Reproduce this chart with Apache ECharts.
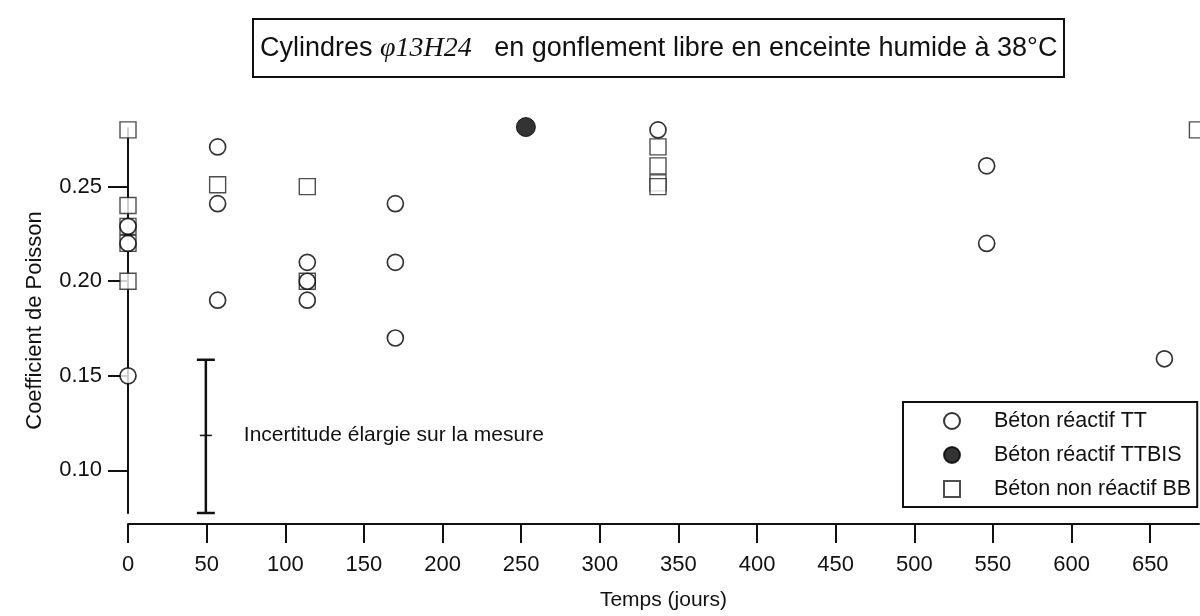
<!DOCTYPE html>
<html>
<head>
<meta charset="utf-8">
<script src="https://cdn.jsdelivr.net/npm/echarts@6/dist/echarts.min.js"></script>
<style>html,body{margin:0;padding:0;background:#fff}#c{width:1200px;height:616px}</style>
</head>
<body>
<div id="c"></div>
<script>
// ---- data ----
var xTicks = [0, 50, 100, 150, 200, 250, 300, 350, 400, 450, 500, 550, 600, 650];
var yTicks = [0.10, 0.15, 0.20, 0.25];
var seriesNames = ['Béton réactif TT', 'Béton réactif TTBIS', 'Béton non réactif BB'];
// [temps (jours), coefficient de Poisson]
var betonTT = [
  [0, 0.229], [0, 0.22], [0, 0.15],
  [57, 0.271], [57, 0.241], [57, 0.19],
  [114, 0.21], [114, 0.20], [114, 0.19],
  [170, 0.241], [170, 0.21], [170, 0.17],
  [337, 0.28],
  [546, 0.261], [546, 0.22],
  [659, 0.159]
];
var betonTTBIS = [[253, 0.2815]];
var betonBB = [
  [0, 0.28], [0, 0.24], [0, 0.229], [0, 0.22], [0, 0.20],
  [57, 0.251],
  [114, 0.25], [114, 0.20],
  [337, 0.271], [337, 0.261], [337, 0.252], [337, 0.25],
  [680, 0.28]
];
// uncertainty bar: [x, low, high, centre]
var incertitude = [[49.5, 0.0775, 0.1585, 0.1185]];
var incertitudeLabel = 'Incertitude élargie sur la mesure';

var FONT = '"Liberation Sans", Arial, Helvetica, sans-serif';
var chart = echarts.init(document.getElementById('c'), null, {renderer: 'canvas'});
chart.setOption({
  animation: false,
  backgroundColor: '#fff',
  title: {
    text: 'Cylindres {i|φ13H24}   en gonflement libre en enceinte humide à 38°C',
    left: 253, top: 19,
    padding: [13, 7, 12, 7],
    borderColor: '#111', borderWidth: 2,
    textStyle: {
      fontFamily: FONT, fontSize: 27, fontWeight: 'normal', color: '#111', lineHeight: 33,
      rich: {
        i: {fontFamily: '"Liberation Serif", "Times New Roman", serif', fontStyle: 'italic', fontSize: 28, color: '#111', lineHeight: 33}
      }
    }
  },
  legend: {
    orient: 'vertical',
    left: 903, top: 402,
    padding: [8, 6, 7, 40],
    itemGap: 12,
    itemWidth: 16, itemHeight: 16,
    borderColor: '#111', borderWidth: 2,
    data: seriesNames,
    formatter: function (n) { return '{t|' + n + '}'; },
    textStyle: {
      fontFamily: FONT, fontSize: 21.5, color: '#111',
      rich: {t: {fontFamily: FONT, fontSize: 21.5, color: '#111', padding: [0, 0, 0, 29], lineHeight: 24}}
    }
  },
  grid: {left: 128, right: 1, top: 128, bottom: 99, containLabel: false},
  xAxis: {
    type: 'value', min: 0, max: 681,
    offset: 11,
    name: 'Temps (jours)', nameLocation: 'middle', nameGap: 66,
    nameTextStyle: {fontFamily: FONT, fontSize: 21, color: '#111'},
    axisLine: {show: true, lineStyle: {color: '#111', width: 2}},
    axisTick: {show: true, inside: false, length: 19, customValues: xTicks, lineStyle: {color: '#111', width: 2}},
    axisLabel: {customValues: xTicks, margin: 30, fontFamily: FONT, fontSize: 22, color: '#111'},
    splitLine: {show: false}
  },
  yAxis: {
    type: 'value', min: 0.0775, max: 0.281,
    name: 'Coefficient de Poisson', nameLocation: 'middle', nameGap: 82,
    nameTextStyle: {fontFamily: FONT, fontSize: 22, color: '#111'},
    axisLine: {show: true, lineStyle: {color: '#111', width: 2}},
    axisTick: {show: true, length: 20, customValues: yTicks, lineStyle: {color: '#111', width: 2}},
    axisLabel: {customValues: yTicks, margin: 26, fontFamily: FONT, fontSize: 22, color: '#111',
      formatter: function (v) { return v.toFixed(2); }},
    splitLine: {show: false}
  },
  series: [
    {
      name: seriesNames[2], type: 'scatter', data: betonBB, symbol: 'rect', symbolSize: 16, clip: false, z: 2,
      itemStyle: {color: '#fff', borderColor: '#222', borderWidth: 1.4}
    },
    {
      name: seriesNames[0], type: 'scatter', data: betonTT, symbol: 'circle', symbolSize: 16, clip: false, z: 3,
      itemStyle: {color: '#fff', borderColor: '#000', borderWidth: 1.7}
    },
    {
      name: seriesNames[1], type: 'scatter', data: betonTTBIS, symbol: 'circle', symbolSize: 19, clip: false, z: 3,
      itemStyle: {color: '#000', borderColor: '#000', borderWidth: 1}
    },
    {
      type: 'custom', data: incertitude, clip: false, z: 4,
      renderItem: function (params, api) {
        var x = api.value(0);
        var lo = api.coord([x, api.value(1)]);
        var hi = api.coord([x, api.value(2)]);
        var mid = api.coord([x, api.value(3)]);
        var cw = 9, mw = 6;
        var st = {stroke: '#111', lineWidth: 2.5};
        return {
          type: 'group',
          children: [
            {type: 'line', shape: {x1: lo[0], y1: lo[1], x2: hi[0], y2: hi[1]}, style: st},
            {type: 'line', shape: {x1: hi[0] - cw, y1: hi[1], x2: hi[0] + cw, y2: hi[1]}, style: st},
            {type: 'line', shape: {x1: lo[0] - cw, y1: lo[1], x2: lo[0] + cw, y2: lo[1]}, style: st},
            {type: 'line', shape: {x1: mid[0] - mw, y1: mid[1], x2: mid[0] + mw, y2: mid[1]}, style: {stroke: '#111', lineWidth: 1.5}},
            {type: 'text', x: mid[0] + 38, y: mid[1], style: {text: incertitudeLabel, fill: '#111',
              font: '21px ' + FONT, verticalAlign: 'middle', align: 'left'}}
          ]
        };
      }
    }
  ]
});
</script>
</body>
</html>
